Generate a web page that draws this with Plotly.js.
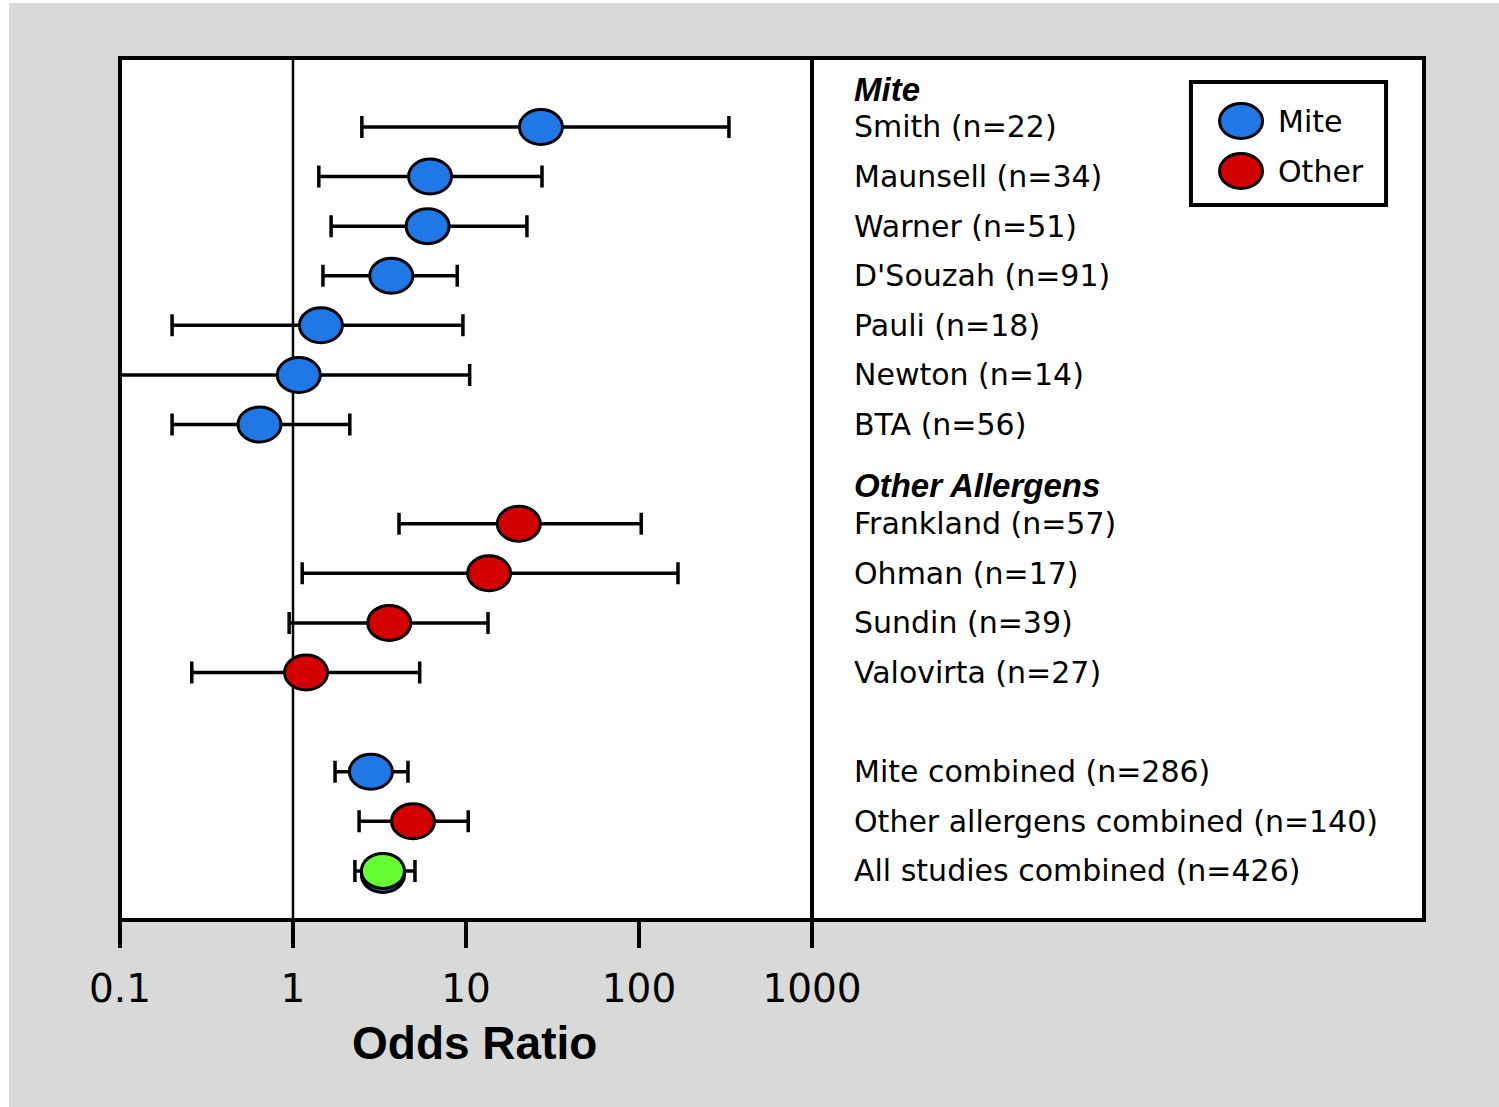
<!DOCTYPE html>
<html>
<head>
<meta charset="utf-8">
<script src="https://cdn.plot.ly/plotly-3.0.1.min.js"></script>
<style>
html,body{margin:0;padding:0;background:#ffffff;}
#chart{position:absolute;left:9px;top:3px;width:1490px;height:1104px;}
</style>
</head>
<body>
<div id="chart"></div>
<script>
// ---- data ----
const studies = ["Smith (n=22)","Maunsell (n=34)","Warner (n=51)","D'Souzah (n=91)","Pauli (n=18)","Newton (n=14)","BTA (n=56)",
  "Frankland (n=57)","Ohman (n=17)","Sundin (n=39)","Valovirta (n=27)",
  "Mite combined (n=286)","Other allergens combined (n=140)","All studies combined (n=426)"];
const rowPos = [1,2,3,4,5,6,7,9,10,11,12,14,15,16];
const oddsRatio = [27.1,6.2,6.0,3.7,1.45,1.08,0.64,20.2,13.6,3.6,1.19,2.82,4.94,3.31];
const ciLow  = [2.5,1.41,1.66,1.49,0.2,0.05,0.2,4.1,1.13,0.95,0.26,1.75,2.41,2.28];
const ciHigh = [331,27.5,22.5,8.9,9.6,10.5,2.13,103,168,13.4,5.4,4.62,10.3,5.07];
const groupOf = ["Mite","Mite","Mite","Mite","Mite","Mite","Mite","Other","Other","Other","Other","Mite","Other","All"];
const headers = ["Mite","Other Allergens"];
const headerPos = [0.25, 8.23];
const tickVals = [0.1,1,10,100,1000];
const tickText = ["0.1","1","10","100","1000"];
const legendNames = ["Mite","Other"];
const refLines = [1,1000];
const axisTitle = "Odds Ratio";

// ---- styles ----
const colors = {Mite:"#1f78e6", Other:"#d40000", All:"#66ff33"};
const labelFont = {family:"DejaVu Sans, Liberation Sans, sans-serif", size:30, color:"#000"};
const headFont = {family:"Liberation Sans, Arial, sans-serif", size:33, color:"#000"};
const xRange = [-1, 6.5376];

const traces = ["Mite","Other","All"].map(g => {
  const idx = groupOf.map((v,i)=>v===g?i:-1).filter(i=>i>=0);
  return {
    type:"scatter", mode:"markers", name:g, showlegend:false,
    x: idx.map(i=>oddsRatio[i]),
    y: idx.map(i=>rowPos[i]),
    text: idx.map(i=>studies[i]),
    error_x:{type:"data", symmetric:false,
      array: idx.map(i=>ciHigh[i]-oddsRatio[i]),
      arrayminus: idx.map(i=>oddsRatio[i]-ciLow[i]),
      color:"#000", thickness:3.5, width:11},
    marker:{size:30, color:colors[g], line:{color:"#000", width:0}},
    hovertemplate:"%{text}<br>OR %{x}<extra></extra>"
  };
});

const shapes = [];
// reference lines
shapes.push({type:"line", xref:"x", yref:"paper", x0:refLines[0], x1:refLines[0], y0:0, y1:1, line:{color:"#000", width:2.5}});
shapes.push({type:"line", xref:"x", yref:"paper", x0:refLines[1], x1:refLines[1], y0:0, y1:1, line:{color:"#000", width:4}});
// ellipse markers (anchored on a linear overlay axis holding log10 of the same values)
oddsRatio.forEach((v,i)=>{
  const g = groupOf[i];
  const lx = Math.log10(v);
  if(g==="All"){
    shapes.push({type:"circle", xref:"x2", yref:"y", xsizemode:"pixel", ysizemode:"pixel",
      xanchor:lx, yanchor:rowPos[i], x0:-21.5, x1:21.5, y0:-21.5, y1:13.5,
      fillcolor:colors.Mite, line:{color:"#000", width:3}});
  }
  shapes.push({type:"circle", xref:"x2", yref:"y", xsizemode:"pixel", ysizemode:"pixel",
    xanchor:lx, yanchor:rowPos[i], x0:-21.5, x1:21.5, y0:-17.5, y1:17.5,
    fillcolor:colors[g], line:{color:"#000", width:3}});
});
// outer box
shapes.push({type:"rect", xref:"paper", yref:"paper", x0:0, x1:1, y0:0, y1:1, line:{color:"#000", width:4}});
// legend box + symbols
shapes.push({type:"rect", xref:"paper", yref:"paper", x0:0.8213, x1:0.9709, y0:0.8295, y1:0.9722, line:{color:"#000", width:4}, fillcolor:"#fff"});
const legY = [0.9269, 0.8689];
legendNames.forEach((n,k)=>{
  shapes.push({type:"circle", xref:"paper", yref:"paper", xsizemode:"pixel", ysizemode:"pixel",
    xanchor:0.8597, yanchor:legY[k], x0:-21.5, x1:21.5, y0:-17.5, y1:17.5,
    fillcolor:colors[n], line:{color:"#000", width:3}});
});

const annotations = [];
studies.forEach((s,i)=>{
  annotations.push({xref:"paper", yref:"y", x:0.5614, y:rowPos[i], xanchor:"left", yanchor:"middle",
    text:s, showarrow:false, font:labelFont});
});
headers.forEach((h,k)=>{
  annotations.push({xref:"paper", yref:"y", x:0.5614, y:headerPos[k], xanchor:"left", yanchor:"middle",
    text:"<b><i>"+h+"</i></b>", showarrow:false, font:headFont});
});
legendNames.forEach((n,k)=>{
  annotations.push({xref:"paper", yref:"paper", x:0.8865, y:legY[k], xanchor:"left", yanchor:"middle",
    text:n, showarrow:false, font:labelFont});
});
annotations.push({xref:"paper", yref:"paper", x:0.2715, y:-0.1427, xanchor:"center", yanchor:"middle",
  text:"<b>"+axisTitle+"</b>", showarrow:false, font:{family:"Liberation Sans, Arial, sans-serif", size:46, color:"#000"}});

const layout = {
  width:1490, height:1104,
  margin:{l:111, r:75, t:55, b:187},
  paper_bgcolor:"#d9d9d9", plot_bgcolor:"#ffffff",
  showlegend:false,
  xaxis:{type:"log", range:xRange, tickvals:tickVals, ticktext:tickText,
    ticks:"outside", ticklen:27, tickwidth:4, tickcolor:"#000", ticklabelstandoff:7,
    showgrid:false, zeroline:false, showline:false,
    tickfont:{family:"DejaVu Sans, Liberation Sans, sans-serif", size:39, color:"#000"}},
  xaxis2:{type:"linear", range:xRange, overlaying:"x", visible:false, showgrid:false, zeroline:false},
  yaxis:{range:[16.99, -0.39], visible:false, showgrid:false, zeroline:false},
  shapes:shapes,
  annotations:annotations
};

Plotly.newPlot("chart", traces, layout, {displayModeBar:false, staticPlot:true});
</script>
</body>
</html>
